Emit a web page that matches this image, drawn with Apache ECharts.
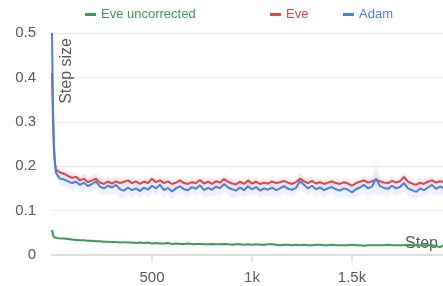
<!DOCTYPE html>
<html>
<head>
<meta charset="utf-8">
<script src="https://cdn.jsdelivr.net/npm/echarts@6/dist/echarts.min.js"></script>
<style>
  html, body { margin: 0; padding: 0; background: #fff; }
  #chart { width: 443px; height: 286px; }
</style>
</head>
<body>
<div id="chart"></div>
<script>
// training steps (x)
const steps = [0, 5, 10, 15, 20, 30, 40,
  60, 80, 100, 120, 140, 160, 180, 200, 220, 240,
  260, 280, 300, 320, 340, 360, 380, 400, 420, 440,
  460, 480, 500, 520, 540, 560, 580, 600, 620, 640,
  660, 680, 700, 720, 740, 760, 780, 800, 820, 840,
  860, 880, 900, 920, 940, 960, 980, 1000, 1020, 1040,
  1060, 1080, 1100, 1120, 1140, 1160, 1180, 1200, 1220, 1240,
  1260, 1280, 1300, 1320, 1340, 1360, 1380, 1400, 1420, 1440,
  1460, 1480, 1500, 1520, 1540, 1560, 1580, 1600, 1620, 1640,
  1660, 1680, 1700, 1720, 1740, 1760, 1780, 1800, 1820, 1840,
  1860, 1880, 1900, 1920, 1940, 1960]

const adam = [0.50, 0.33, 0.245, 0.205, 0.185, 0.178, 0.172,
  0.170, 0.166, 0.162, 0.165, 0.158, 0.163, 0.155, 0.160, 0.166, 0.154,
  0.150, 0.156, 0.152, 0.158, 0.148, 0.145, 0.152, 0.146, 0.150, 0.144,
  0.152, 0.147, 0.156, 0.150, 0.158, 0.146, 0.151, 0.143, 0.150, 0.155,
  0.148, 0.146, 0.153, 0.149, 0.157, 0.146, 0.151, 0.147, 0.154, 0.150,
  0.160, 0.152, 0.148, 0.145, 0.152, 0.146, 0.155, 0.148, 0.153, 0.145,
  0.150, 0.147, 0.152, 0.146, 0.150, 0.155, 0.149, 0.147, 0.151, 0.166,
  0.158, 0.150, 0.156, 0.148, 0.152, 0.146, 0.150, 0.153, 0.148, 0.145,
  0.150, 0.147, 0.141, 0.148, 0.152, 0.158, 0.150, 0.154, 0.172, 0.155,
  0.151, 0.149, 0.156, 0.150, 0.153, 0.162, 0.150, 0.146, 0.142, 0.150,
  0.146, 0.152, 0.158, 0.149, 0.154, 0.150]

const eve = [0.41, 0.30, 0.235, 0.205, 0.192, 0.188, 0.186,
  0.183, 0.178, 0.174, 0.176, 0.168, 0.172, 0.164, 0.168, 0.172, 0.163,
  0.160, 0.165, 0.161, 0.166, 0.162, 0.165, 0.168, 0.162, 0.166, 0.160,
  0.165, 0.162, 0.172, 0.164, 0.168, 0.162, 0.166, 0.160, 0.163, 0.168,
  0.162, 0.160, 0.164, 0.162, 0.169, 0.161, 0.165, 0.160, 0.166, 0.163,
  0.171, 0.165, 0.161, 0.159, 0.165, 0.160, 0.168, 0.161, 0.165, 0.160,
  0.163, 0.161, 0.166, 0.162, 0.164, 0.167, 0.163, 0.160, 0.164, 0.172,
  0.166, 0.162, 0.167, 0.161, 0.164, 0.160, 0.163, 0.166, 0.162, 0.160,
  0.164, 0.161, 0.156, 0.162, 0.165, 0.168, 0.163, 0.166, 0.170, 0.166,
  0.163, 0.162, 0.167, 0.163, 0.166, 0.176, 0.165, 0.161, 0.158, 0.163,
  0.160, 0.165, 0.168, 0.163, 0.166, 0.164]

const eveUncorrected = [0.056, 0.045, 0.040, 0.039, 0.038, 0.038, 0.038,
  0.037, 0.036, 0.035, 0.034, 0.033, 0.033, 0.032, 0.032, 0.031, 0.031,
  0.030, 0.030, 0.029, 0.029, 0.028, 0.029, 0.028, 0.028, 0.027, 0.028,
  0.027, 0.028, 0.026, 0.027, 0.026, 0.026, 0.027, 0.025, 0.026, 0.025,
  0.025, 0.026, 0.024, 0.025, 0.025, 0.024, 0.024, 0.025, 0.024, 0.024,
  0.025, 0.024, 0.023, 0.024, 0.024, 0.023, 0.024, 0.023, 0.024, 0.023,
  0.023, 0.024, 0.024, 0.023, 0.022, 0.023, 0.023, 0.022, 0.023, 0.022,
  0.023, 0.022, 0.022, 0.023, 0.023, 0.022, 0.022, 0.023, 0.022, 0.022,
  0.022, 0.022, 0.023, 0.022, 0.022, 0.021, 0.022, 0.022, 0.022, 0.022,
  0.022, 0.023, 0.022, 0.022, 0.022, 0.022, 0.023, 0.022, 0.022, 0.022,
  0.021, 0.022, 0.022, 0.020, 0.018, 0.022]

// half width of the shaded spread around each curve
const adamSpread = [0.005, 0.01, 0.012, 0.012, 0.012, 0.012, 0.014,
  0.015, 0.016, 0.018, 0.015, 0.017, 0.02, 0.016, 0.018, 0.015, 0.017,
  0.016, 0.019, 0.015, 0.018, 0.02, 0.017, 0.016, 0.018, 0.015, 0.017,
  0.016, 0.018, 0.015, 0.017, 0.016, 0.019, 0.015, 0.018, 0.016, 0.017,
  0.015, 0.018, 0.016, 0.015, 0.017, 0.016, 0.018, 0.015, 0.017, 0.016,
  0.018, 0.015, 0.02, 0.016, 0.017, 0.015, 0.018, 0.016, 0.015, 0.017,
  0.016, 0.015, 0.017, 0.016, 0.018, 0.015, 0.016, 0.017, 0.015, 0.02,
  0.017, 0.016, 0.015, 0.017, 0.016, 0.018, 0.015, 0.016, 0.017, 0.015,
  0.016, 0.018, 0.015, 0.017, 0.016, 0.018, 0.02, 0.017, 0.035, 0.02,
  0.016, 0.017, 0.015, 0.018, 0.016, 0.02, 0.017, 0.016, 0.018, 0.016,
  0.017, 0.015, 0.018, 0.016, 0.017, 0.016]

const eveSpread = [0.005, 0.008, 0.01, 0.01, 0.01, 0.01, 0.011,
  0.012, 0.011, 0.012, 0.01, 0.011, 0.012, 0.01, 0.011, 0.012, 0.01,
  0.011, 0.01, 0.012, 0.011, 0.01, 0.012, 0.011, 0.01, 0.011, 0.012,
  0.01, 0.011, 0.012, 0.01, 0.011, 0.01, 0.012, 0.011, 0.01, 0.011,
  0.012, 0.01, 0.011, 0.012, 0.01, 0.011, 0.01, 0.012, 0.011, 0.01,
  0.011, 0.012, 0.01, 0.011, 0.01, 0.012, 0.011, 0.01, 0.011, 0.012,
  0.01, 0.011, 0.012, 0.01, 0.011, 0.01, 0.012, 0.011, 0.01, 0.012,
  0.011, 0.01, 0.012, 0.011, 0.01, 0.011, 0.012, 0.01, 0.011, 0.01,
  0.012, 0.011, 0.01, 0.011, 0.012, 0.01, 0.011, 0.012, 0.013, 0.011,
  0.01, 0.011, 0.012, 0.01, 0.011, 0.013, 0.011, 0.01, 0.012, 0.011,
  0.01, 0.011, 0.012, 0.01, 0.011, 0.01]

const xTickLabels = { 500: '500', 1000: '1k', 1500: '1.5k' }

const GREEN = '#3d9a50'
const RED = '#dc4646'
const BLUE = '#4a7ee0'
const TEXT = '#5a5a5a'

const pairs = (ys) => steps.map((x, i) => [x, ys[i]])

// shaded spread drawn as one polygon through the axis scales
const band = (ys, spread, color) => ({
  type: 'custom',
  silent: true,
  clip: true,
  data: [0],
  renderItem: (params, api) => {
    const top = steps.map((x, i) => api.coord([x, ys[i] + spread[i]]))
    const bottom = steps.map((x, i) => api.coord([x, ys[i] - spread[i]])).reverse()
    return {
      type: 'polygon',
      shape: { points: top.concat(bottom) },
      style: { fill: color },
    }
  },
})

const chart = echarts.init(document.getElementById('chart'))

const legendBase = { top: 3, itemWidth: 11, itemHeight: 3, icon: 'rect', textStyle: { fontSize: 13 } }

chart.setOption({
  animation: false,
  textStyle: { fontFamily: 'Arial, "Liberation Sans", sans-serif' },
  legend: [
    { ...legendBase, left: 80, data: [{ name: 'Eve uncorrected', textStyle: { color: GREEN } }] },
    { ...legendBase, left: 265, data: [{ name: 'Eve', textStyle: { color: RED } }] },
    { ...legendBase, left: 338, data: [{ name: 'Adam', textStyle: { color: BLUE } }] },
  ],
  grid: { left: 52, right: 0, top: 33, bottom: 31 },
  xAxis: {
    type: 'value',
    min: 0,
    max: 1955,
    interval: 500,
    name: 'Step',
    nameLocation: 'end',
    nameGap: -5,
    nameTextStyle: { color: TEXT, fontSize: 16, align: 'right', verticalAlign: 'bottom', padding: [0, 0, 3, 0] },
    axisLine: { lineStyle: { color: '#dedede', width: 2 } },
    axisTick: { length: 7, lineStyle: { color: '#dedede', width: 1.5 } },
    splitLine: { show: false },
    axisLabel: {
      color: TEXT,
      fontSize: 15,
      margin: 15,
      showMinLabel: false,
      showMaxLabel: false,
      formatter: (v) => xTickLabels[v] || '',
    },
  },
  yAxis: {
    type: 'value',
    min: 0,
    max: 0.5,
    interval: 0.1,
    name: 'Step size',
    nameLocation: 'end',
    nameGap: -5,
    nameRotate: 90,
    nameTextStyle: { color: TEXT, fontSize: 16, align: 'right', verticalAlign: 'top', padding: [7, 0, 0, 0] },
    axisLine: { show: false },
    axisTick: { show: false },
    splitLine: { lineStyle: { color: '#ececec', width: 1 } },
    axisLabel: { color: TEXT, fontSize: 15, margin: 16 },
  },
  series: [
    band(eve, eveSpread, 'rgba(220,70,70,0.08)'),
    band(adam, adamSpread, 'rgba(74,126,224,0.1)'),
    {
      name: 'Eve uncorrected',
      type: 'line',
      data: pairs(eveUncorrected),
      symbol: 'none',
      color: GREEN,
      lineStyle: { width: 2 },
    },
    {
      name: 'Eve',
      type: 'line',
      data: pairs(eve),
      symbol: 'none',
      color: RED,
      lineStyle: { width: 2 },
    },
    {
      name: 'Adam',
      type: 'line',
      data: pairs(adam),
      symbol: 'none',
      color: BLUE,
      lineStyle: { width: 2 },
    },
  ],
})
</script>
</body>
</html>
